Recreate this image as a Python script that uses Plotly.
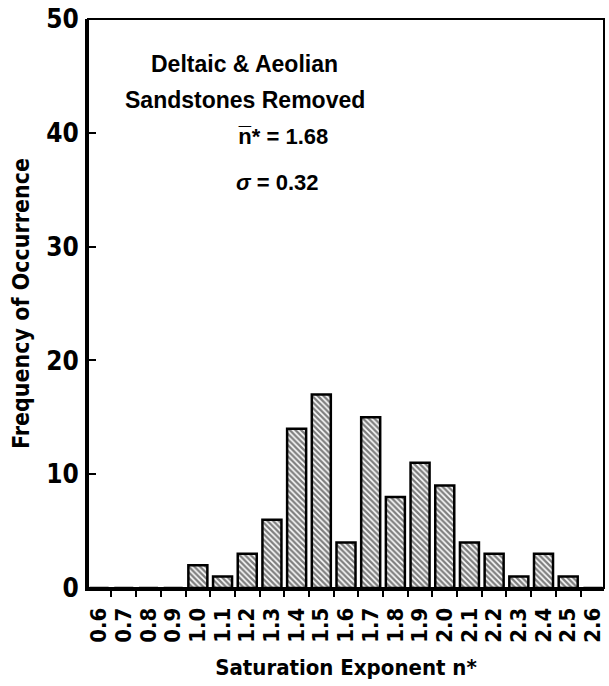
import plotly.graph_objects as go

# Data
exponent = [0.6, 0.7, 0.8, 0.9, 1.0, 1.1, 1.2, 1.3, 1.4, 1.5, 1.6, 1.7, 1.8, 1.9, 2.0, 2.1, 2.2, 2.3, 2.4, 2.5, 2.6]
frequency = [0, 0, 0, 0, 2, 1, 3, 6, 14, 17, 4, 15, 8, 11, 9, 4, 3, 1, 3, 1, 0]
tick_labels = [f"{v:.1f}" for v in exponent]
y_ticks = [0, 10, 20, 30, 40, 50]

COND = "Liberation Sans Narrow, DejaVu Sans Condensed, Arial Narrow, sans-serif"
SANS = "Liberation Sans, Arial, Helvetica, sans-serif"

fig = go.Figure()
fig.add_trace(go.Bar(
    x=exponent, y=frequency, width=0.077,
    marker=dict(color="white",
                line=dict(color="black", width=2.5),
                pattern=dict(shape="\\", size=4, solidity=0.6, fgcolor="black", bgcolor="white")),
    showlegend=False,
))

fig.update_layout(
    width=609, height=686,
    margin=dict(l=88, r=5, t=19, b=98),
    paper_bgcolor="white", plot_bgcolor="white",
    xaxis=dict(
        range=[0.555, 2.645], tickmode="array", tickvals=exponent, ticktext=tick_labels,
        tickangle=-90, ticks="", showgrid=False, zeroline=False,
        showline=True, linecolor="black", linewidth=3,
        tickfont=dict(family=COND, size=22, color="black", weight="bold"),
        ticklabelstandoff=8,
        minor=dict(tick0=0.65, dtick=0.1, ticks="outside", ticklen=6, tickwidth=2, tickcolor="black", showgrid=False),
        title=dict(text="Saturation Exponent n*", font=dict(family=COND, size=22, color="black", weight="bold"), standoff=18),
    ),
    yaxis=dict(
        range=[0, 50], tickmode="array", tickvals=y_ticks, ticks="inside", ticklen=8, tickwidth=2,
        tickcolor="black", showgrid=False, zeroline=False,
        showline=True, linecolor="black", linewidth=3,
        tickfont=dict(family=COND, size=26, color="black", weight="bold"),
        ticklabelstandoff=1,
        title=dict(text="Frequency of Occurrence", font=dict(family=COND, size=23, color="black", weight="bold"), standoff=11),
    ),
    shapes=[dict(type="rect", xref="paper", yref="paper", x0=0, x1=1, y0=0, y1=1,
                 line=dict(color="black", width=2), layer="above")],
)

ann_font = dict(family=SANS, size=23, color="black", weight="bold")
fig.add_annotation(xref="paper", yref="paper", x=0.304, y=0.921, text="Deltaic & Aeolian",
                   showarrow=False, font=ann_font, xanchor="center", yanchor="middle")
fig.add_annotation(xref="paper", yref="paper", x=0.304, y=0.858, text="Sandstones Removed",
                   showarrow=False, font=ann_font, xanchor="center", yanchor="middle")
stat_font = dict(family=SANS, size=22, color="black", weight="bold")
fig.add_annotation(xref="paper", yref="paper", x=0.378, y=0.793, text="n\u0305* = 1.68",
                   showarrow=False, font=stat_font, xanchor="center", yanchor="middle")
fig.add_annotation(xref="paper", yref="paper", x=0.368, y=0.712, text="<i>\u03c3</i> = 0.32",
                   showarrow=False, font=stat_font, xanchor="center", yanchor="middle")

fig.write_html("out.html")
